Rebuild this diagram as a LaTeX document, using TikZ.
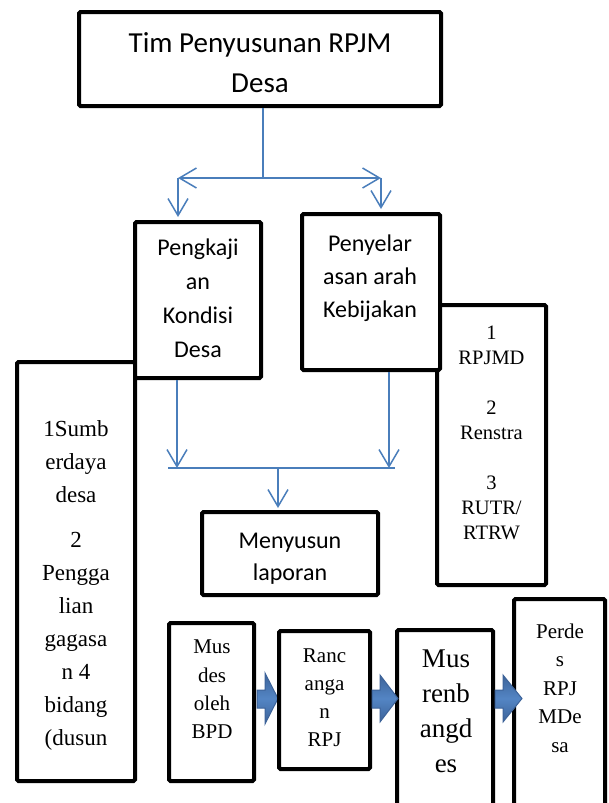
\documentclass[tikz,border=0pt]{standalone}
\usepackage{fontspec}
\setmainfont{Liberation Serif}
\newfontfamily\calfont{Carlito}
\usetikzlibrary{arrows.meta,calc}
\definecolor{connblue}{HTML}{4A7EBB}
\definecolor{blkdark}{HTML}{3D6399}
\definecolor{blklight}{HTML}{5385C4}
\tikzset{
  box/.style={draw=black, line width=4pt, fill=white, rounded corners=1.5pt, inner sep=0pt},
  txt/.style={align=center, inner sep=0pt},
  connline/.style={draw=connblue, line width=1.5pt},
  arr/.style={connline, -{Straight Barb[length=17pt,width=20pt,line width=1.5pt]}},
  dblarr/.style={connline, {Straight Barb[length=17pt,width=20pt,line width=1.5pt]}-{Straight Barb[length=17pt,width=20pt,line width=1.5pt]}},
  blockarrow/.style={draw=blkdark, line width=1pt, top color=blkdark, bottom color=blkdark, middle color=blklight}
}
\begin{document}
\begin{tikzpicture}[x=1pt,y=-1pt]
\useasboundingbox (0,0) rectangle (609,803);
\clip (0,0) rectangle (609,803);
\fill[white] (0,0) rectangle (609,803);

% side boxes (drawn first, partly covered)
\node[box, minimum width=118pt, minimum height=419pt] (left) at (76,571.5) {};
\node[box, minimum width=109pt, minimum height=280pt] (right) at (491.5,445) {};

% main boxes
\node[box, minimum width=362pt, minimum height=94pt] (top) at (260,59) {};
\node[box, minimum width=126pt, minimum height=156pt] (pengk) at (198,300) {};
\node[box, minimum width=138pt, minimum height=156pt] (penye) at (371,292) {};
\node[box, minimum width=176pt, minimum height=83pt] (meny) at (290,553.5) {};

% first block arrow lies under the second box
\path[blockarrow] (257,690) -- (265,690) -- (265,673) -- (278,698.5) -- (265,724) -- (265,708) -- (257,708) -- cycle;

% bottom boxes
\node[box, minimum width=85pt, minimum height=158pt] (b1) at (211.5,702) {};
\node[box, minimum width=91pt, minimum height=138pt] (b2) at (324.5,700) {};
\node[box, minimum width=96pt, minimum height=190pt] (b3) at (445,725) {};
\node[box, minimum width=91pt, minimum height=221pt] (b4) at (559.5,709.5) {};

% texts
\node[txt, font=\calfont\fontsize{29}{40}\selectfont] (ttop) at (260,62.5) {Tim Penyusunan RPJM\\Desa};
\node[txt, font=\calfont\fontsize{24}{34}\selectfont] (tpengk) at (198,298) {Pengkaji\\an\\Kondisi\\Desa};
\node[txt, font=\calfont\fontsize{24}{33}\selectfont] (tpenye) at (370,278) {Penyelar\\asan arah\\Kebijakan};
\node[txt, font=\calfont\fontsize{24}{32}\selectfont] (tmeny) at (290,559) {Menyusun\\laporan};
\node[txt, font=\fontsize{23}{33}\selectfont] (tleft) at (76,585.7) {1Sumb\\erdaya\\desa\\[12pt]2\\Pengga\\lian\\gagasa\\n 4\\bidang\\(dusun};
\node[txt, font=\fontsize{20.5}{25}\selectfont] (tright) at (491.5,432.5) {1\\RPJMD\\[25pt]2\\Renstra\\[25pt]3\\RUTR/\\RTRW};
\node[txt, font=\fontsize{21}{28.3}\selectfont] (tb1) at (212,689.5) {Mus\\des\\oleh\\BPD};
\node[txt, font=\fontsize{21}{28}\selectfont] (tb2) at (324.5,698) {Ranc\\anga\\n\\RPJ};
\node[txt, font=\fontsize{27}{35}\selectfont] (tb3) at (446,711.5) {Mus\\renb\\angd\\es};
\node[txt, font=\fontsize{21}{28.5}\selectfont] (tb4) at (560,688) {Perde\\s\\RPJ\\MDe\\sa};

% upper connectors
\coordinate (jt) at (263,178);
\coordinate (hl) at (178,178);
\coordinate (hr) at (381,178);
\draw[connline] (jt |- top.south) -- (jt);
\draw[dblarr] (hl) -- (hr);
\draw[arr, shorten >=3pt] (hl) -- (hl |- pengk.north);
\draw[arr, shorten >=3pt] (hr) -- (hr |- penye.north);

% lower connectors
\coordinate (jl) at (177,468);
\coordinate (jr) at (389,468);
\coordinate (jm) at (278,468);
\coordinate (hl2) at (168,468);
\coordinate (hr2) at (395,468);
\draw[arr] (jl |- pengk.south) -- (jl);
\draw[arr] (jr |- penye.south) -- (jr);
\draw[connline] (hl2) -- (hr2);
\draw[arr, shorten >=2pt] (jm) -- (jm |- meny.north);

% remaining block arrows, over the box borders
\path[blockarrow] (372,690) -- (380,690) -- (380,675) -- (398,698.5) -- (380,722) -- (380,708) -- (372,708) -- cycle;
\path[blockarrow] (495,690) -- (503,690) -- (503,675) -- (522,698.5) -- (503,722) -- (503,708) -- (495,708) -- cycle;
\end{tikzpicture}
\end{document}
